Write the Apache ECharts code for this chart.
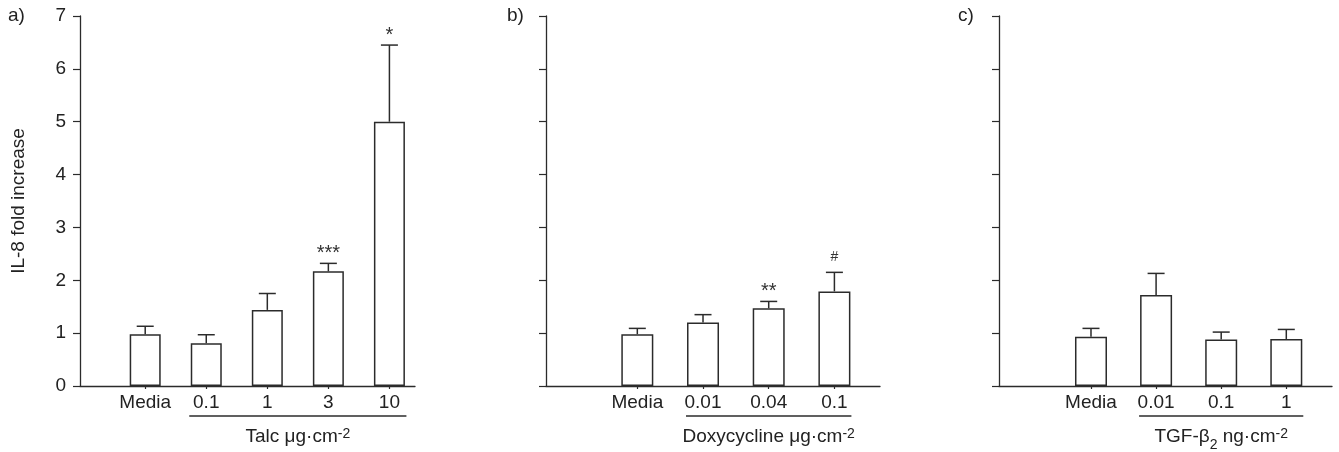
<!DOCTYPE html>
<html>
<head>
<meta charset="utf-8">
<script src="https://cdn.jsdelivr.net/npm/echarts@6/dist/echarts.min.js"></script>
<style>
  html, body { margin: 0; padding: 0; background: #fff; }
  #chart { width: 1339px; height: 452px; }
</style>
</head>
<body>
<div id="chart"></div>
<script>
// IL-8 fold increase, mean with upper SEM whisker, three stimulus panels
const talcCats  = ['Media', '0.1', '1', '3', '10'];
const talcMean  = [0.98, 0.81, 1.44, 2.17, 5.0];
const talcSem   = [0.15, 0.16, 0.31, 0.15, 1.45];
const talcMarks = ['', '', '', '***', '*'];

const doxyCats  = ['Media', '0.01', '0.04', '0.1'];
const doxyMean  = [0.98, 1.20, 1.47, 1.79];
const doxySem   = [0.11, 0.15, 0.13, 0.36];
const doxyMarks = ['', '', '**', '#'];

const tgfCats   = ['Media', '0.01', '0.1', '1'];
const tgfMean   = [0.93, 1.72, 0.88, 0.89];
const tgfSem    = [0.16, 0.41, 0.14, 0.18];
const tgfMarks  = ['', '', '', ''];

const yTickMax = 7;
const yTitle = 'IL-8 fold increase';
const panelTags = ['a)', 'b)', 'c)'];
const groupTitles = [
  '{t|Talc μg·cm}{sup|-2}',
  '{t|Doxycycline μg·cm}{sup|-2}',
  '{t|TGF-β}{sub|2}{t| ng·cm}{sup|-2}'
];

const INK = '#2b2b2b';
const FONT = '"Liberation Sans", Arial, Helvetica, sans-serif';

const panels = [
  { cats: talcCats, mean: talcMean, sem: talcSem, marks: talcMarks,
    left: 80, width: 335, xMin: -1.068, xMax: 4.419, barW: 31 },
  { cats: doxyCats, mean: doxyMean, sem: doxySem, marks: doxyMarks,
    left: 546, width: 334, xMin: -1.390, xMax: 3.694, barW: 32 },
  { cats: tgfCats, mean: tgfMean, sem: tgfSem, marks: tgfMarks,
    left: 999, width: 333, xMin: -1.413, xMax: 3.702, barW: 32 }
];

const chart = echarts.init(document.getElementById('chart'), null, { renderer: 'canvas' });

const grid = [], xAxis = [], yAxis = [], series = [];

panels.forEach((p, k) => {
  const idx = p.cats.map((_, i) => i);
  grid.push({ left: p.left, width: p.width, top: 16, bottom: 66, containLabel: false });
  xAxis.push({
    type: 'value', gridIndex: k, min: p.xMin, max: p.xMax,
    splitLine: { show: false },
    axisLine: { show: true, onZero: false, lineStyle: { color: INK, width: 1.3 } },
    axisTick: { show: true, customValues: idx, length: 3, lineStyle: { color: INK, width: 1.2 } },
    axisLabel: {
      show: true, customValues: idx, margin: 7,
      formatter: v => p.cats[Math.round(v)],
      color: '#222', fontSize: 19, fontFamily: FONT
    }
  });
  yAxis.push({
    type: 'value', gridIndex: k, min: 0, max: yTickMax, interval: 1,
    splitLine: { show: false },
    axisLine: { show: true, onZero: false, lineStyle: { color: INK, width: 1.3 } },
    axisTick: { show: true, length: 7, lineStyle: { color: INK, width: 1.2 } },
    axisLabel: { show: k === 0, margin: 14, color: '#222', fontSize: 19, fontFamily: FONT },
    name: k === 0 ? yTitle : '',
    nameLocation: 'middle', nameRotate: 90, nameGap: 52,
    nameTextStyle: { color: '#222', fontSize: 19, fontFamily: FONT }
  });
  series.push({
    type: 'bar', xAxisIndex: k, yAxisIndex: k,
    barWidth: p.barW,
    data: p.mean.map((v, i) => [i, v]),
    itemStyle: { color: '#fff', borderColor: INK, borderWidth: 1.5 },
    silent: true, animation: false
  });
  series.push({
    type: 'custom', xAxisIndex: k, yAxisIndex: k,
    data: p.mean.map((v, i) => [i, v, v + p.sem[i]]),
    renderItem: (params, api) => {
      const lo = api.coord([api.value(0), api.value(1)]);
      const hi = api.coord([api.value(0), api.value(2)]);
      const mark = p.marks[params.dataIndex];
      const kids = [
        { type: 'line', shape: { x1: lo[0], y1: lo[1], x2: hi[0], y2: hi[1] },
          style: { stroke: INK, lineWidth: 1.5 } },
        { type: 'line', shape: { x1: hi[0] - 8.5, y1: hi[1], x2: hi[0] + 8.5, y2: hi[1] },
          style: { stroke: INK, lineWidth: 1.5 } }
      ];
      if (mark) {
        const isHash = mark === '#';
        kids.push({
          type: 'text',
          x: hi[0], y: hi[1] - (isHash ? 8 : 0),
          style: {
            text: mark, fill: '#333',
            font: (isHash ? 14 : 20) + 'px ' + FONT,
            align: 'center', verticalAlign: 'bottom',
            textAlign: 'center', textVerticalAlign: 'bottom'
          }
        });
      }
      return { type: 'group', children: kids };
    },
    z: 5, silent: true, animation: false
  });
});

chart.setOption({
  backgroundColor: '#fff',
  animation: false,
  grid, xAxis, yAxis, series
});

// Bracket line under the treatment doses plus the stimulus name below it
const graphic = [];
panels.forEach((p, k) => {
  const x1 = chart.convertToPixel({ xAxisIndex: k }, 1) - 17;
  const x2 = chart.convertToPixel({ xAxisIndex: k }, p.cats.length - 1) + 17;
  graphic.push({
    type: 'line', shape: { x1, y1: 416, x2, y2: 416 },
    style: { stroke: INK, lineWidth: 1.3 }, silent: true
  });
  graphic.push({
    type: 'text', x: (x1 + x2) / 2, y: 437,
    style: {
      text: groupTitles[k],
      align: 'center', verticalAlign: 'middle',
      textAlign: 'center', textVerticalAlign: 'middle',
      fill: '#222', font: '19px ' + FONT,
      rich: {
        t: { fontSize: 19, fontFamily: FONT, fill: '#222', color: '#222' },
        sup: { fontSize: 14, fontFamily: FONT, fill: '#222', color: '#222', verticalAlign: 'top', padding: [0, 0, 4, 0] },
        sub: { fontSize: 14, fontFamily: FONT, fill: '#222', color: '#222', verticalAlign: 'bottom', padding: [0, 0, -6, 0] }
      }
    },
    silent: true
  });
  graphic.push({
    type: 'text', x: [8, 507, 958][k], y: 16,
    style: {
      text: panelTags[k], fill: '#222', font: '19px ' + FONT,
      align: 'left', verticalAlign: 'middle',
      textAlign: 'left', textVerticalAlign: 'middle'
    },
    silent: true
  });
});
chart.setOption({ graphic });
</script>
</body>
</html>
